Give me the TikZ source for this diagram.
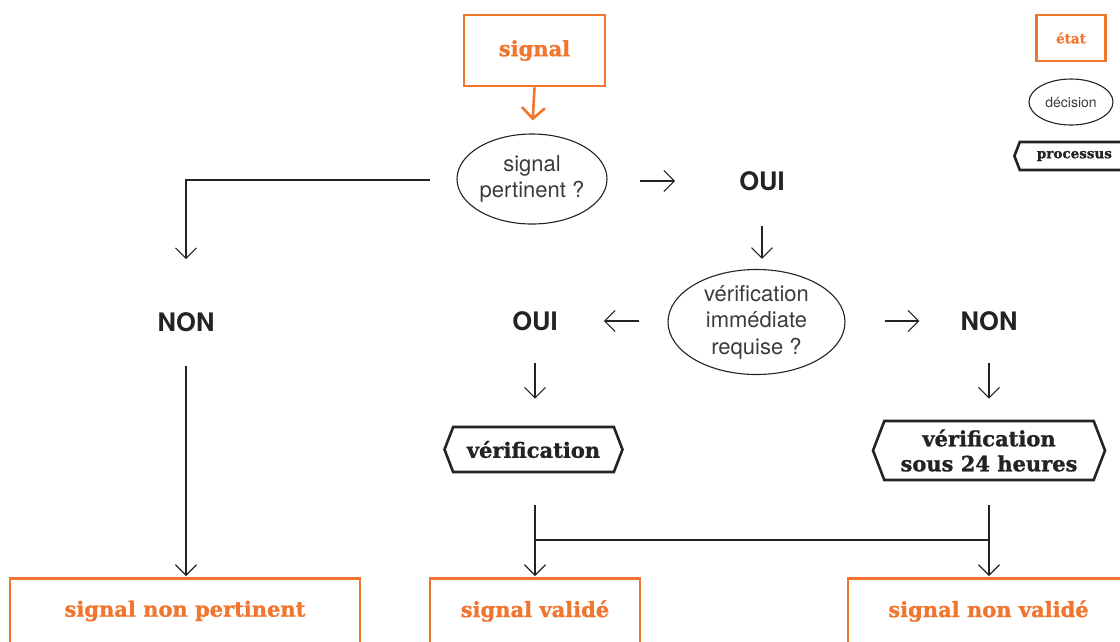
\documentclass[tikz,border=0pt]{standalone}
\usepackage{fontspec}
\setmainfont{TeX Gyre Heros}
\newfontfamily\slab{DejaVu Serif}[BoldFeatures={FakeBold=1.2}]
\usetikzlibrary{arrows.meta,shapes.geometric,shapes.symbols}
\definecolor{orng}{RGB}{240,118,48}
\definecolor{ink}{RGB}{35,35,35}
\definecolor{soft}{RGB}{60,60,60}
\tikzset{
  etat/.style={draw=orng, line width=2.6pt, text=orng, font=\slab\bfseries\fontsize{21}{25}\selectfont, inner sep=0pt},
  etattext/.style={text=orng, font=\slab\bfseries\fontsize{21}{25}\selectfont, inner sep=0pt},
  decision/.style={ellipse, draw=ink, line width=1.1pt, text=soft, font=\fontsize{22}{26.5}\selectfont, align=center, inner sep=0pt},
  procbox/.style={signal, signal to=west and east, signal pointer angle=138, draw=ink, line width=2.6pt, text=ink, font=\slab\bfseries\fontsize{21}{25}\selectfont, align=center, inner sep=0pt},
  answer/.style={text=ink, font=\bfseries\fontsize{25.5}{28}\selectfont, inner sep=0pt},
  arr/.style={draw=ink, line width=1.1pt, -{Straight Barb[length=10.5pt,width=21pt]}},
  oarr/.style={draw=orng, line width=2.6pt, -{Straight Barb[length=11pt,width=23pt]}},
  link/.style={draw=ink, line width=1.1pt},
}
\begin{document}
\begin{tikzpicture}[x=1pt,y=-1pt]
\useasboundingbox (0,0) rectangle (1120,641);
% states
\node[etat, minimum width=141pt, minimum height=71pt] (signal) at (534.5,50.5) {signal};
\node[etat, minimum width=350pt, minimum height=90pt, anchor=north] (b1) at (185,577) {};
\node[etat, minimum width=210pt, minimum height=90pt, anchor=north] (b2) at (535,577) {};
\node[etat, minimum width=281pt, minimum height=90pt, anchor=north] (b3) at (988.5,577) {};
\node[etattext] (t1) at (185,611) {signal non pertinent};
\node[etattext] (t2) at (535,611) {signal validé};
\node[etattext] (t3) at (988.5,611) {signal non validé};
% decisions
\node[decision, minimum width=150pt, minimum height=90pt] (q1) at (532,179) {signal\\pertinent ?};
\node[decision, minimum width=177pt, minimum height=105pt] (q2) at (756.5,322) {vérification\\immédiate\\requise ?};
% answers
\node[answer] (oui1) at (762,181) {OUI};
\node[answer] (non1) at (186,322) {NON};
\node[answer] (oui2) at (535,321) {OUI};
\node[answer] (non2) at (989,321) {NON};
% processes
\node[procbox, minimum width=178pt, minimum height=45pt] (p1) at (533.5,449.5) {vérification};
\node[procbox, minimum width=232pt, minimum height=59pt] (p2) at (989,450.5) {vérification\\sous 24 heures};
% legend
\node[etat, minimum width=69pt, minimum height=46pt, font=\slab\bfseries\fontsize{13.5}{15}\selectfont] (lg1) at (1071,38) {état};
\node[decision, minimum width=84pt, minimum height=46pt, font=\fontsize{14}{16}\selectfont] (lg2) at (1071,102) {décision};
\node[procbox, minimum width=124pt, minimum height=28pt, font=\slab\bfseries\fontsize{13.5}{15}\selectfont, anchor=west] (lg3) at (1013,156) {\hspace{10pt}processus\hspace{14pt}};
% connectors
\draw[oarr, shorten >=13pt] (signal.south) -- (q1.north);
\draw[arr, shorten <=32pt, shorten >=64pt] (q1.east |- oui1.west) -- (oui1.west);
\draw[arr, shorten <=26pt, shorten >=53pt] (q1.west |- 0,180) -| (non1.north);
\draw[arr, shorten <=35pt, shorten >=10pt] (oui1.south) -- (oui1.south |- q2.north);
\draw[arr, shorten <=28pt, shorten >=46pt] (q2.west |- oui2.east) -- (oui2.east);
\draw[arr, shorten <=39pt, shorten >=41pt] (q2.east |- non2.west) -- (non2.west);
\draw[arr, shorten <=32pt, shorten >=27pt] (oui2.south) -- (oui2.south |- p1.north);
\draw[arr, shorten <=32pt, shorten >=21pt] (non2.south) -- (non2.south |- p2.north);
\draw[arr, shorten <=34pt, shorten >=1pt] (non1.south) -- (non1.south |- b1.north);
\draw[arr, shorten <=32pt, shorten >=1pt] (p1.south -| b2.north) -- (b2.north);
\draw[arr, shorten <=24pt, shorten >=1pt] (p2.south) -- (p2.south |- b3.north);
\coordinate (j1) at (535,540);
\coordinate (j2) at (989,540);
\draw[link] (j1) -- (j2);
\end{tikzpicture}
\end{document}
